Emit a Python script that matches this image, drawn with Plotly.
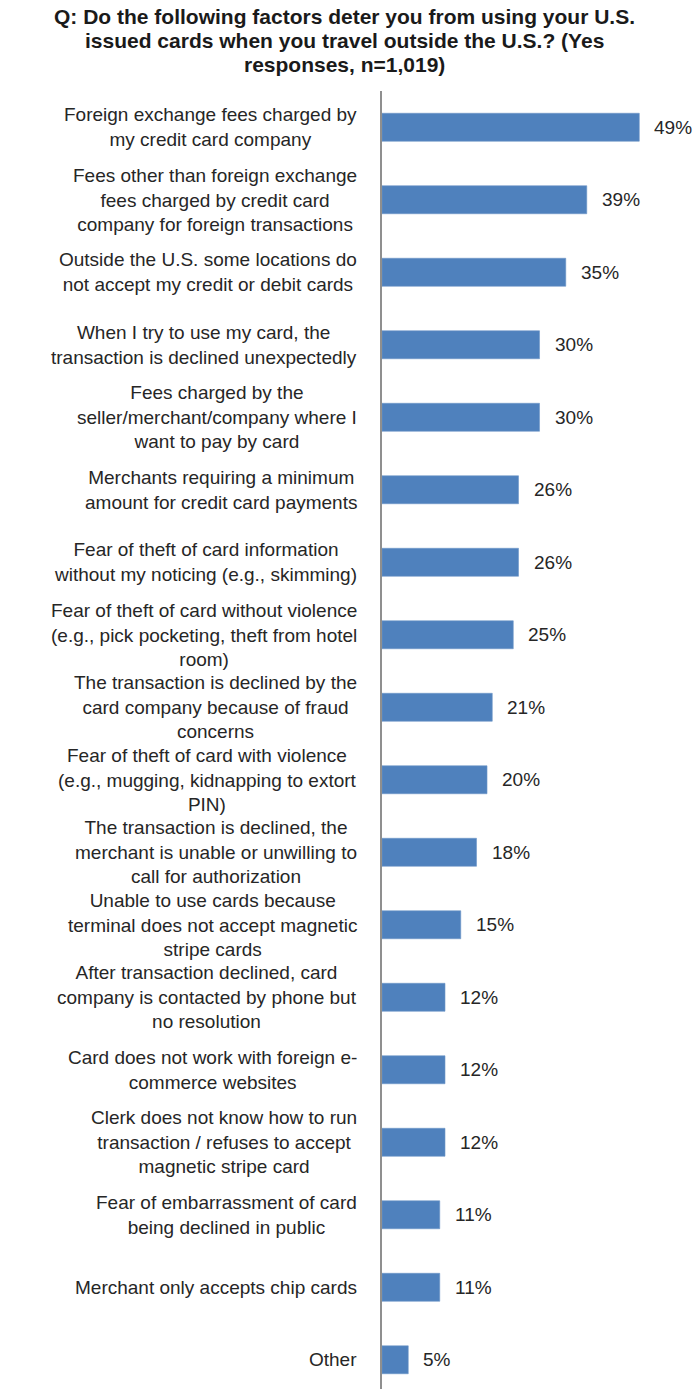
import plotly.graph_objects as go

title_lines = [
    "Q: Do the following factors deter you from using your U.S.",
    "issued cards when you travel outside the U.S.? (Yes",
    "responses, n=1,019)",
]

categories = [
    "Foreign exchange fees charged by<br>my credit card company",
    "Fees other than foreign exchange<br>fees charged by credit card<br>company for foreign transactions",
    "Outside the U.S. some locations do<br>not accept my credit or debit cards",
    "When I try to use my card, the<br>transaction is declined unexpectedly",
    "Fees charged by the<br>seller/merchant/company where I<br>want to pay by card",
    "Merchants requiring a minimum<br>amount for credit card payments",
    "Fear of theft of card information<br>without my noticing (e.g., skimming)",
    "Fear of theft of card without violence<br>(e.g., pick pocketing, theft from hotel<br>room)",
    "The transaction is declined by the<br>card company because of fraud<br>concerns",
    "Fear of theft of card with violence<br>(e.g., mugging, kidnapping to extort<br>PIN)",
    "The transaction is declined, the<br>merchant is unable or unwilling to<br>call for authorization",
    "Unable to use cards because<br>terminal does not accept magnetic<br>stripe cards",
    "After transaction declined, card<br>company is contacted by phone but<br>no resolution",
    "Card does not work with foreign e-<br>commerce websites",
    "Clerk does not know how to run<br>transaction / refuses to accept<br>magnetic stripe card",
    "Fear of embarrassment of card<br>being declined in public",
    "Merchant only accepts chip cards",
    "Other",
]

values = [49, 39, 35, 30, 30, 26, 26, 25, 21, 20, 18, 15, 12, 12, 12, 11, 11, 5]

FONT = "Liberation Sans, Arial, sans-serif"
TEXT_COLOR = "#262626"
BAR_COLOR = "#4F81BD"

W, H = 696, 1389
ML, MT = 382, 91
PLOT_W = W - ML

fig = go.Figure()
fig.add_trace(go.Bar(
    x=values,
    y=categories,
    orientation="h",
    marker=dict(color=BAR_COLOR, line=dict(color="#6E97C8", width=0.6)),
    hoverinfo="skip",
))

annotations = []
for cat, v in zip(categories, values):
    annotations.append(dict(
        x=0, xref="paper", y=cat, yref="y",
        text=cat, showarrow=False,
        xanchor="right", yanchor="middle", align="center",
        xshift=-23,
        font=dict(family=FONT, size=19, color=TEXT_COLOR),
    ))
    annotations.append(dict(
        x=v, xref="x", y=cat, yref="y",
        text=f"{v}%", showarrow=False,
        xanchor="left", yanchor="middle",
        xshift=13,
        font=dict(family=FONT, size=19, color=TEXT_COLOR),
    ))

# title: one annotation per line, to match the tight line spacing
title_centers_px = [16, 40, 64.5]
for line, yc in zip(title_lines, title_centers_px):
    annotations.append(dict(
        x=(344 - ML) / PLOT_W, xref="paper",
        y=1, yref="paper", yanchor="middle", yshift=MT - yc,
        xanchor="center", align="center",
        text="<b>" + line + "</b>",
        showarrow=False,
        font=dict(family=FONT, size=21, color="#1a1a1a"),
    ))

fig.update_layout(
    width=W,
    height=H,
    margin=dict(l=ML, r=0, t=MT, b=0, pad=0),
    paper_bgcolor="white",
    plot_bgcolor="white",
    showlegend=False,
    bargap=0.614,
    xaxis=dict(visible=False, range=[0, 59.8], showgrid=False, zeroline=False),
    yaxis=dict(
        type="category",
        range=[17.403, -0.5],
        showticklabels=False,
        showgrid=False,
        zeroline=False,
        ticks="",
        showline=True,
        linecolor="#8f8f8f",
        linewidth=2,
    ),
    annotations=annotations,
)

fig.write_html("out.html")
